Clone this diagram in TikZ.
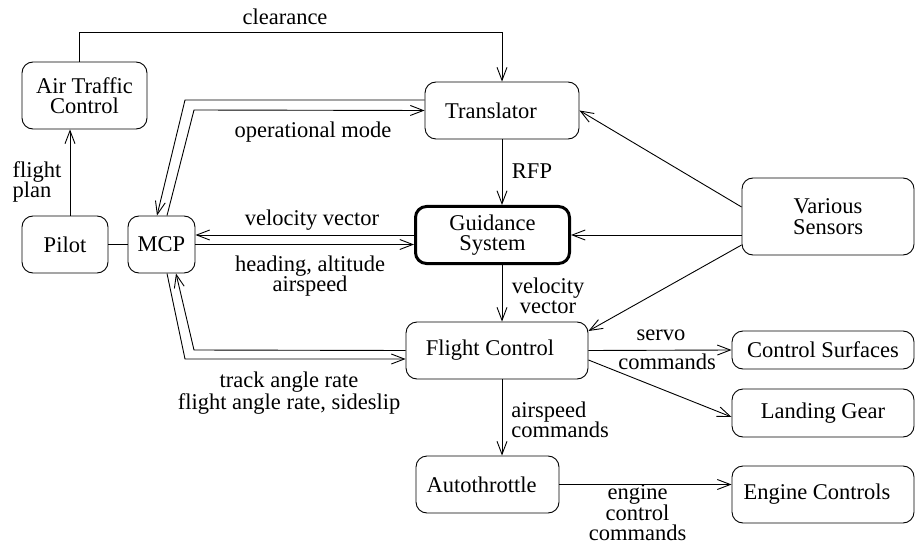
\documentclass[tikz,border=0pt]{standalone}
\usepackage{fontspec}
\setmainfont{Liberation Serif}
\usetikzlibrary{arrows.meta}
\begin{document}
\begin{tikzpicture}[x=1pt,y=-1pt,
  line width=0.9pt,
  every node/.style={font=\fontsize{22.5}{20.5}\selectfont},
  box/.style={draw, rounded corners=11pt, inner sep=0pt, align=center},
  mainbox/.style={box, line width=3pt},
  lbl/.style={inner sep=0pt, align=center},
  arr/.style={-{Straight Barb[length=13pt,width=10pt]}}]
\useasboundingbox (0,0) rectangle (917,545);

% blocks
\node[box, minimum width=125pt, minimum height=67pt] (atc) at (84.5,95.5) {Air Traffic\\Control};
\node[box, minimum width=86pt, minimum height=57pt] (pilot) at (65,244.5) {Pilot};
\node[box, minimum width=67pt, minimum height=57pt] (mcp) at (161.5,244.5) {MCP};
\node[box, minimum width=154pt, minimum height=57pt] (trans) at (502,110.5) {\kern-22pt Translator};
\node[mainbox, minimum width=154pt, minimum height=57pt] (guid) at (492.5,235) {Guidance\\System};
\node[box, minimum width=172pt, minimum height=77pt] (sens) at (828,216.5) {Various\\Sensors};
\node[box, minimum width=182pt, minimum height=57pt] (fc) at (497,350.5) {\kern-14pt Flight Control};
\node[box, minimum width=182pt, minimum height=38pt] (cs) at (823,350) {Control Surfaces};
\node[box, minimum width=182pt, minimum height=48pt] (lg) at (823,413) {Landing Gear};
\node[box, minimum width=143pt, minimum height=57pt] (auto) at (487.5,484.5) {\kern-12pt Autothrottle};
\node[box, minimum width=182pt, minimum height=57pt] (ec) at (823,494.5) {\kern-12pt Engine Controls};

% helper points on block borders
\coordinate (fp) at ([xshift=5pt]pilot.north);
\coordinate (spine) at ([xshift=9.5pt]guid.north);
\coordinate (sg) at ([yshift=-18.5pt]sens.west);

% clearance and flight plan
\draw[arr] ([xshift=-5.5pt]atc.north) -- ++(0,-29) -| (trans.north);
\draw[arr] (fp) -- (fp |- atc.south);
\draw (pilot.east) -- (mcp.west);

% MCP <-> Translator
\draw[arr] ([yshift=10.5pt]trans.west) -- (185,100) -- ([xshift=-4.5pt]mcp.north);
\draw[arr] ([xshift=5.5pt]mcp.north) -- (194,110) -- (trans.west);

% MCP <-> Guidance System
\draw[arr] (guid.west) -- (guid.west -| mcp.east);
\draw[arr] (mcp.east) -- (mcp.east -| guid.west);

% MCP <-> Flight Control
\draw[arr] (fc.west) -- (194,350) -- ([xshift=14.5pt]mcp.south);
\draw[arr] ([xshift=5.5pt]mcp.south) -- (185,359) -- ([yshift=-8.5pt]fc.west);

% vertical chain
\draw[arr] (trans.south) -- (trans.south |- guid.north);
\draw[arr] (spine |- guid.south) -- (spine |- fc.north);
\draw[arr] (spine |- fc.south) -- (spine |- auto.north);

% sensors
\draw[arr] ([yshift=9.5pt]sens.west) -- (trans.east);
\draw[arr] (sg) -- (sg -| guid.east);
\draw[arr] ([yshift=-28.5pt]sens.west) -- ([yshift=19.5pt]fc.east);

% outputs
\draw[arr] (fc.east) -- (cs.west);
\draw[arr] ([yshift=-9.5pt]fc.east) -- ([yshift=-4pt]lg.west);
\draw[arr] (auto.east) -- (auto.east -| ec.west);

% connector labels
\node[lbl] (lclr) at (285,17) {clearance};
\node[lbl, align=left] (lfp) at (37,182) {flight\\plan};
\node[lbl] (lop) at (313,132) {operational mode};
\node[lbl] (lvv) at (312,220) {velocity vector};
\node[lbl] (lhd) at (310,276) {heading, altitude\\airspeed};
\node[lbl] (ltr) at (289,393) {track angle rate\\flight angle rate, sideslip};
\node[lbl] (lrfp) at (532,171) {RFP};
\node[lbl] (lvv2) at (548,296) {velocity\\vector};
\node[lbl, align=left, anchor=west] (las) at (511,420) {airspeed\\commands};
\node[lbl] (lservo) at (661,335) {servo};
\node[lbl] (lcmd) at (667,362) {commands};
\node[lbl] (leng) at (637.5,513) {engine\\control\\commands};
\end{tikzpicture}
\end{document}
